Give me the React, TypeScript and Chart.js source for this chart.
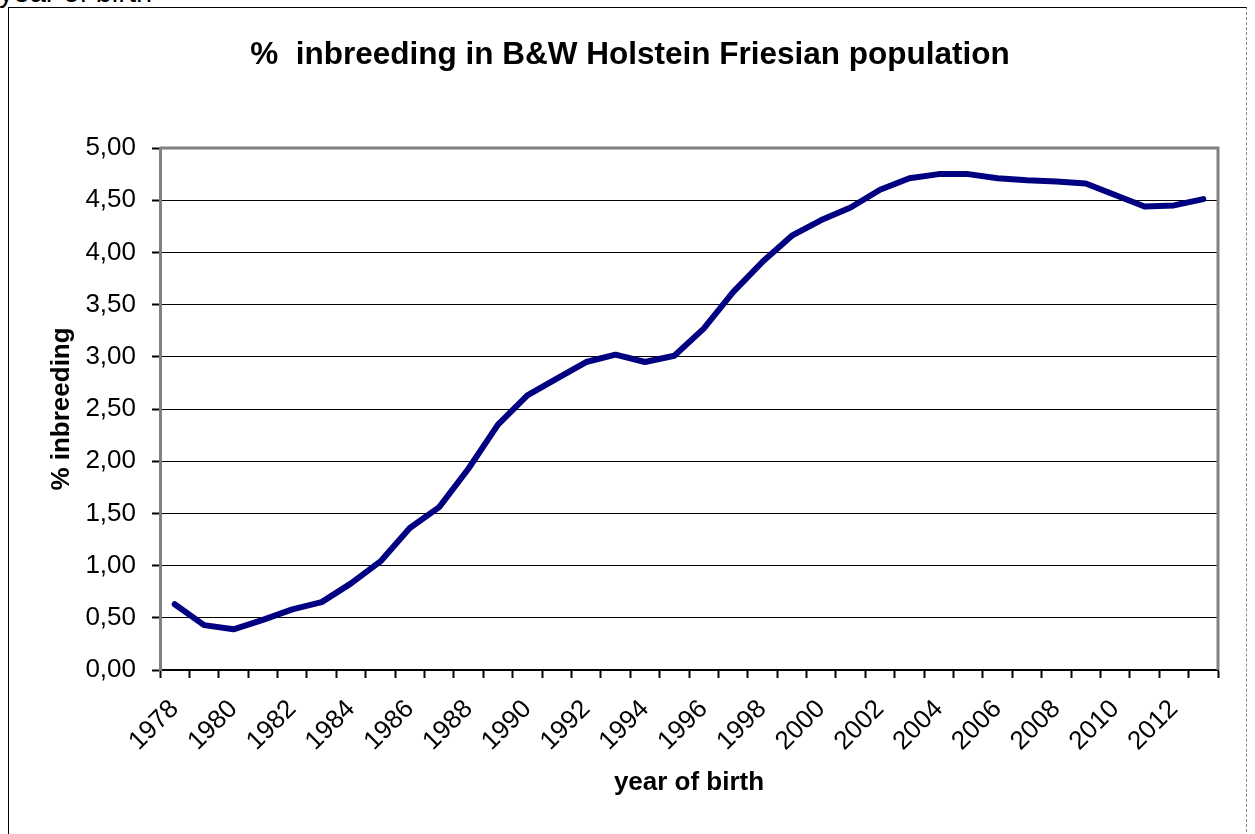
import React, { useEffect, useRef } from "react";
import { Chart, registerables } from "chart.js";

Chart.register(...registerables);

const years: string[] = [
  "1978", "1979", "1980", "1981", "1982", "1983", "1984", "1985", "1986", "1987",
  "1988", "1989", "1990", "1991", "1992", "1993", "1994", "1995", "1996", "1997",
  "1998", "1999", "2000", "2001", "2002", "2003", "2004", "2005", "2006", "2007",
  "2008", "2009", "2010", "2011", "2012", "2013",
];

const inbreeding: number[] = [
  0.63, 0.43, 0.39, 0.48, 0.58, 0.65, 0.83, 1.04, 1.36, 1.56,
  1.93, 2.35, 2.63, 2.79, 2.95, 3.02, 2.95, 3.01, 3.27, 3.62,
  3.91, 4.16, 4.31, 4.43, 4.60, 4.71, 4.75, 4.75, 4.71, 4.69,
  4.68, 4.66, 4.55, 4.44, 4.45, 4.51,
];

const titleText = "%  inbreeding in B&W Holstein Friesian population";
const yTitle = "% inbreeding";
const xTitle = "year of birth";

const FONT = "'Liberation Sans', Arial, sans-serif";

const plotBorder = {
  id: "plotBorder",
  afterDatasetsDraw(chart: any) {
    const { ctx, chartArea } = chart;
    ctx.save();
    ctx.strokeStyle = "#808080";
    ctx.lineWidth = 3;
    ctx.beginPath();
    ctx.moveTo(chartArea.left, chartArea.top);
    ctx.lineTo(chartArea.right, chartArea.top);
    ctx.lineTo(chartArea.right, chartArea.bottom);
    ctx.stroke();
    ctx.restore();
  },
};

export default function App() {
  const ref = useRef<HTMLCanvasElement | null>(null);

  useEffect(() => {
    if (!ref.current) return;
    const chart = new Chart(ref.current, {
      type: "line",
      data: {
        labels: years,
        datasets: [
          {
            data: inbreeding,
            borderColor: "#000080",
            backgroundColor: "#000080",
            borderWidth: 6,
            pointRadius: 0,
            tension: 0,
            borderCapStyle: "round",
            borderJoinStyle: "round",
            fill: false,
          },
        ],
      },
      options: {
        animation: false,
        responsive: false,
        devicePixelRatio: 1,
        layout: { padding: { left: 42, top: 0, right: 37, bottom: 0 } },
        plugins: {
          legend: { display: false },
          tooltip: { enabled: false },
          title: {
            display: true,
            text: titleText,
            color: "#000",
            font: { family: FONT, size: 31.5, weight: "bold", lineHeight: 1.2 },
            padding: { top: 36.1, bottom: 74.1 },
          },
        },
        scales: {
          x: {
            type: "category",
            offset: true,
            afterFit(scale: any) {
              scale.height = 164;
            },
            grid: {
              offset: true,
              drawOnChartArea: false,
              drawTicks: true,
              tickLength: 8,
              tickColor: "#000",
              tickWidth: 2,
            },
            border: { display: true, color: "#000", width: 2 },
            ticks: {
              autoSkip: false,
              minRotation: 45,
              maxRotation: 45,
              color: "#000",
              padding: 16,
              font: { family: FONT, size: 26 },
              callback: (_v: any, i: number) => (i % 2 === 0 ? years[i] : ""),
            },
            title: {
              display: true,
              text: xTitle,
              color: "#000",
              font: { family: FONT, size: 26, weight: "bold", lineHeight: 1.2 },
              padding: { top: 0, bottom: 35.4 },
            },
          },
          y: {
            min: 0,
            max: 5,
            afterFit(scale: any) {
              scale.width = 118;
            },
            grid: {
              color: "#000",
              lineWidth: 1,
              drawTicks: true,
              tickLength: 8,
              tickColor: "#000",
              tickWidth: 2,
            },
            border: { display: true, color: "#808080", width: 3 },
            ticks: {
              stepSize: 0.5,
              color: "#000",
              padding: 16,
              font: { family: FONT, size: 26 },
              callback: (v: any) => Number(v).toFixed(2).replace(".", ","),
            },
            title: {
              display: true,
              text: yTitle,
              color: "#000",
              font: { family: FONT, size: 26, weight: "bold", lineHeight: 1.2 },
              padding: { top: 4.4, bottom: 0 },
            },
          },
        },
      },
      plugins: [plotBorder],
    });
    return () => chart.destroy();
  }, []);

  return (
    <div style={{ position: "absolute", left: 0, top: 0, width: 1255, height: 834, overflow: "hidden", background: "#fff" }}>
      <div
        style={{
          position: "absolute",
          left: -1,
          top: -24,
          fontFamily: FONT,
          fontSize: 29,
          color: "#000",
          whiteSpace: "nowrap",
        }}
      >
        year of birth
      </div>
      <div
        style={{
          position: "absolute",
          left: 8,
          top: 7,
          width: 1239,
          height: 840,
          borderLeft: "1px solid #000",
          borderTop: "1px solid #000",
          borderRight: "1px dashed #888",
          boxSizing: "border-box",
        }}
      />
      <canvas
        ref={ref}
        width={1255}
        height={834}
        style={{ position: "absolute", left: 0, top: 0, width: 1255, height: 834 }}
      />
    </div>
  );
}
